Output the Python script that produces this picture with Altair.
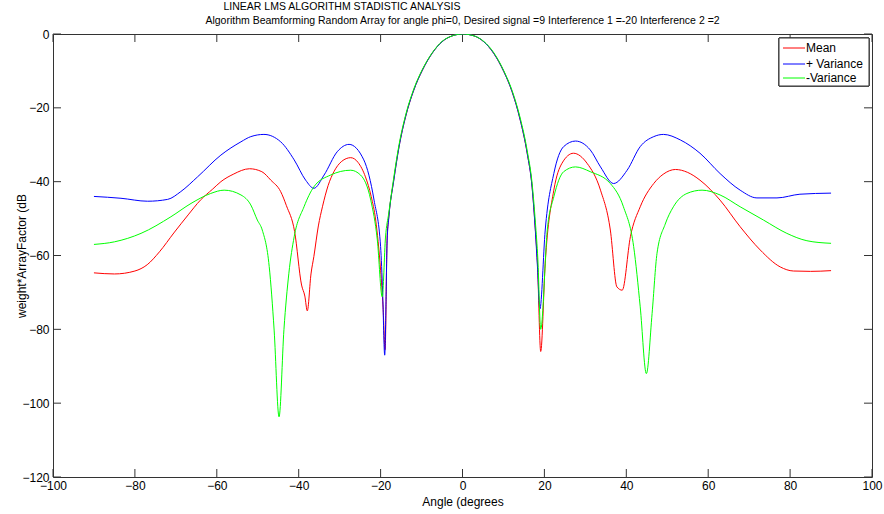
import altair as alt
import pandas as pd

TITLE_1 = "LINEAR LMS ALGORITHM STADISTIC ANALYSIS"
TITLE_2 = ("Algorithm Beamforming Random Array for angle phi=0, Desired signal =9 "
           "Interference 1 =-20 Interference 2 =2")
X_TITLE = "Angle (degrees"
Y_TITLE = "weight*ArrayFactor (dB"

SERIES = ["Mean", "+ Variance", "-Variance"]
COLORS = ["#ff0000", "#0000ff", "#00ff00"]

X_TICKS = [-100, -80, -60, -40, -20, 0, 20, 40, 60, 80, 100]
Y_TICKS = [-120, -100, -80, -60, -40, -20, 0]

# Mean (red)
MEAN_ANG = [-90, -85, -80, -77, -74, -70.5, -67, -64, -61, -59, -56, -52, -49, -46.8,
            -44.4, -43, -41, -39.3, -38.5, -37.9, -37.0, -36.3, -35.2, -34.2, -32.8,
            -31.4, -29.5, -27.3, -25.5, -23.7, -22.3, -21.2, -20, -19.4, -18.9,
            -18.4, -18, -16.8, -15.5, -13.9, -11.9, -9.8, -7.4, -5, -2.5, 0,
            2.8, 5.2, 7.6, 10.1, 12.1, 14.1, 15.8, 17, 17.8, 18.3, 19.1,
            20.2, 22.3, 24.3, 27.1, 30.4, 33.7, 36.1, 37.7, 39, 41, 43.4, 46.7, 49,
            52, 55, 58, 62.9, 67.8, 72.7, 77.6, 80.8, 85, 90]
MEAN_DB = [-64.7, -65.0, -64.2, -62.5, -59.0, -53.9, -49.0, -45.0, -42.0, -40.0, -38.0,
           -36.5, -37.3, -39.6, -42.7, -46.5, -53.5, -68, -71, -75, -65, -60.3, -52,
           -46.8, -41, -37.3, -34.5, -33.5, -34.8, -38.7, -44, -50.4, -64, -74, -85.5,
           -55, -49.5, -39.6, -30.5, -22.4, -15.2, -9.8, -5.2, -2.1, -0.5, 0,
           -0.5, -2.1, -5.2, -10.2, -15.6, -23.3, -32.3, -41.4, -53.1, -62, -86,
           -62.1, -42.3, -35, -32.3, -35, -42.3, -53.1, -68.5, -69.4, -54.9, -46.8,
           -40.5, -38, -36.7, -37.5, -39.6, -45, -52.2, -58.5, -63.1, -64.2, -64.3, -64.1]

# + Variance (blue)
PLUS_ANG = [-90, -83.4, -76.9, -72, -68.8, -64.7, -59, -54.1, -51.7, -48.5, -44.4,
            -41.1, -38.3, -36.3, -33.8, -30.6, -27.7, -24.1, -21.6, -20, -19.5, -19.0,
            -18.4, -18, -16.8, -15.5, -13.9, -11.9, -9.8, -7.4, -5, -2.5, 0,
            2.8, 5.2, 7.6, 10.1, 12.1, 14.1, 15.8, 17, 17.8, 18.3, 18.9,
            20.2, 22.3, 24.7, 27.6, 31.2, 33.7, 36.9, 40.2, 43.4, 46.7, 49.1, 53.2,
            58, 62.9, 67.8, 71.9, 76.8, 82.4, 90]
PLUS_DB = [-44, -44.5, -45.3, -44.8, -42.7, -38.7, -32.8, -29.2, -27.8, -27.2, -29.2,
           -34.1, -39.6, -41.8, -38.2, -31.9, -29.9, -34.1, -45, -57.6, -70, -87,
           -56, -49.8, -39.8, -30.6, -22.4, -15.2, -9.8, -5.2, -2.1, -0.5, 0,
           -0.5, -2.1, -5.2, -10.2, -15.6, -23.3, -32.3, -41.6, -53.5, -63, -74.5,
           -53.1, -37.8, -30.5, -29, -31.4, -36, -40.5, -36.9, -30.5, -27.8, -27.2,
           -28.7, -32.3, -37.8, -42.3, -44.4, -44.4, -43.4, -43.1]

# - Variance (green)
MINUS_ANG = [-90, -85, -78.5, -71.2, -66.3, -61.5, -58.2, -54.1, -51.7, -50.1, -48.9,
             -47.2, -46, -44.8, -43.6, -42.4, -41.1, -38.7, -36.3, -32.2, -27.3, -24.9,
             -22.4, -20.8, -19.6, -18.8, -18, -16.8, -15.5, -13.9, -11.9, -9.8, -7.4,
             -5, -2.5, 0, 2.8, 5.2, 7.6, 10.1, 12.1, 14.1, 15.8, 17, 17.8, 18.4, 19.1,
             20.7, 22.3, 24.7, 27.6, 31.2, 36.1, 39.3, 41.8, 43.4, 44.9, 46.3, 47.5,
             49.5, 51.5, 54.8, 58.5, 62.9, 67.8, 73.5, 79.2, 84.1, 90]
MINUS_DB = [-57, -56.3, -54, -49.5, -45.9, -43.2, -42.3, -43.6, -46.3, -50.4, -53.1,
            -63, -80.2, -103.7, -80, -64.8, -54.9, -46.8, -41.4, -38.2, -36.9, -38.2,
            -45, -55.8, -71.2, -55, -48.5, -39, -30, -22, -14.9, -9.6, -5.1,
            -2.0, -0.5, 0, -0.5, -2.0, -5.0, -10.0, -15.3, -22.8, -31.6, -40.5, -51, -61, -80,
            -53.1, -44.1, -37.3, -36, -37.3, -40.5, -46.8, -57.6, -73.9, -92, -75.7, -59.4,
            -51.5, -46.8, -43.2, -42.3, -43.6, -46.8, -50.4, -54, -56, -56.7]

rows = []
for name, angs, vals in [(SERIES[0], MEAN_ANG, MEAN_DB),
                         (SERIES[1], PLUS_ANG, PLUS_DB),
                         (SERIES[2], MINUS_ANG, MINUS_DB)]:
    for a, v in zip(angs, vals):
        rows.append({"series": name, "angle": a, "db": v})
df = pd.DataFrame(rows)

FONT = "Liberation Sans"
W, H = 819, 443

x_scale = alt.Scale(domain=[-100, 100], nice=False, zero=False)
y_scale = alt.Scale(domain=[-120, 0], nice=False, zero=False)

lines = alt.Chart(df).mark_line(strokeWidth=1, interpolate="monotone", clip=True).encode(
    x=alt.X("angle:Q", scale=x_scale,
            axis=alt.Axis(values=X_TICKS, title=X_TITLE, tickSize=0, domain=False,
                          grid=False, labelFlush=False, labelOverlap=False,
                          labelPadding=3, titlePadding=5, labelFontSize=12,
                          titleFontSize=12, labelFont=FONT, titleFont=FONT,
                          titleFontWeight="normal", labelColor="#000", titleColor="#000")),
    y=alt.Y("db:Q", scale=y_scale,
            axis=alt.Axis(values=Y_TICKS, title=Y_TITLE, tickSize=0, domain=False,
                          grid=False, labelOverlap=False, labelPadding=4,
                          titleX=-32, titleBaseline="middle", labelFontSize=12,
                          titleFontSize=12, labelFont=FONT, titleFont=FONT,
                          titleFontWeight="normal", labelColor="#000", titleColor="#000")),
    color=alt.Color("series:N", sort=SERIES,
                    scale=alt.Scale(domain=SERIES, range=COLORS), legend=None),
)

xt = pd.DataFrame({"angle": X_TICKS})
yt = pd.DataFrame({"db": Y_TICKS})
TICK = 8
tick_bottom = alt.Chart(xt).mark_rule(color="#333", strokeWidth=1).encode(
    x="angle:Q", y=alt.value(H), y2=alt.value(H - TICK))
tick_top = alt.Chart(xt).mark_rule(color="#333", strokeWidth=1).encode(
    x="angle:Q", y=alt.value(0), y2=alt.value(TICK))
tick_left = alt.Chart(yt).mark_rule(color="#333", strokeWidth=1).encode(
    y="db:Q", x=alt.value(0), x2=alt.value(TICK))
tick_right = alt.Chart(yt).mark_rule(color="#333", strokeWidth=1).encode(
    y="db:Q", x=alt.value(W), x2=alt.value(W - TICK))

t1 = alt.Chart(pd.DataFrame({"t": [TITLE_1]})).mark_text(
    font=FONT, fontSize=10.5, align="center", baseline="middle", color="#000").encode(
    text="t:N", x=alt.value(289), y=alt.value(-27))
t2 = alt.Chart(pd.DataFrame({"t": [TITLE_2]})).mark_text(
    font=FONT, fontSize=10.5, align="center", baseline="middle", color="#000").encode(
    text="t:N", x=alt.value(W / 2), y=alt.value(-13))

# legend (box, line samples, labels)
LEG_X0, LEG_X1, LEG_Y0, LEG_Y1 = 726, 816, 4, 52
LEG_ROWS = [14, 30, 44]
leg_df = pd.DataFrame({"series": SERIES})
legend_layers = [
    alt.Chart(leg_df).mark_rect(fill="white", stroke="#333", strokeWidth=1).encode(
        x=alt.value(LEG_X0), x2=alt.value(LEG_X1), y=alt.value(LEG_Y0), y2=alt.value(LEG_Y1))
]
for i, name in enumerate(SERIES):
    sub = alt.Chart(pd.DataFrame({"series": [name]}))
    legend_layers.append(sub.mark_rule(strokeWidth=1, color=COLORS[i]).encode(
        x=alt.value(LEG_X0 + 4), x2=alt.value(LEG_X0 + 26),
        y=alt.value(LEG_ROWS[i])))
    legend_layers.append(sub.mark_text(font=FONT, fontSize=12, align="left",
                                       baseline="middle", color="#000").encode(
        text="series:N", x=alt.value(LEG_X0 + 27), y=alt.value(LEG_ROWS[i])))

chart = alt.layer(tick_bottom, tick_top, tick_left, tick_right, lines, t1, t2,
                  *legend_layers).properties(
    width=W, height=H,
    padding={"left": 53, "top": 34, "right": 12, "bottom": 37},
    autosize=alt.AutoSizeParams(type="none"),
    background="white",
).configure_view(stroke="#333", strokeWidth=1)

chart.save("out.html", embed_options={"renderer": "svg", "actions": False})
